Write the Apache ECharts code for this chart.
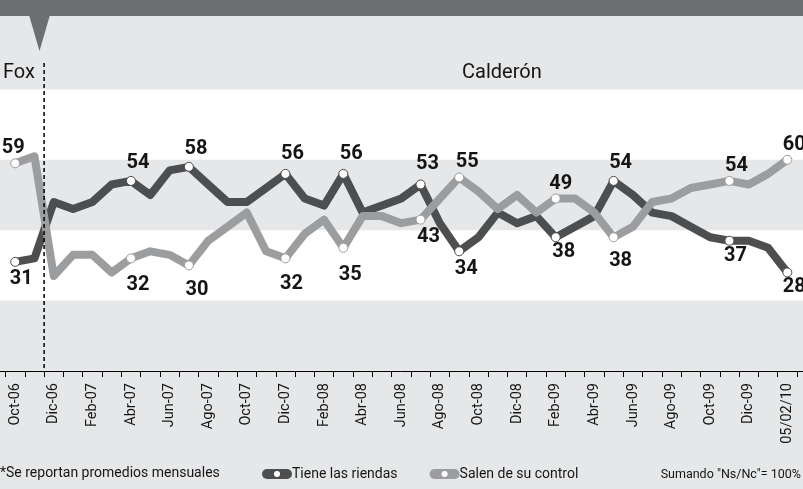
<!DOCTYPE html>
<html>
<head>
<meta charset="utf-8">
<script src="https://cdn.jsdelivr.net/npm/echarts@6/dist/echarts.min.js"></script>
<style>
  html, body { margin: 0; padding: 0; background: #e6e7e8; }
  #chart { width: 803px; height: 489px; }
</style>
</head>
<body>
<div id="chart"></div>
<script>
// meses (promedios mensuales) + último levantamiento
const months = [
  "Oct-06", "Nov-06", "Dic-06", "Ene-07", "Feb-07", "Mar-07", "Abr-07", "May-07",
  "Jun-07", "Jul-07", "Ago-07", "Sep-07", "Oct-07", "Nov-07", "Dic-07", "Ene-08",
  "Feb-08", "Mar-08", "Abr-08", "May-08", "Jun-08", "Jul-08", "Ago-08", "Sep-08",
  "Oct-08", "Nov-08", "Dic-08", "Ene-09", "Feb-09", "Mar-09", "Abr-09", "May-09",
  "Jun-09", "Jul-09", "Ago-09", "Sep-09", "Oct-09", "Nov-09", "Dic-09", "Ene-10",
  "05/02/10"
];
const riendas = [
  31, 32, 48, 46, 48, 53, 54, 50, 57, 58, 53, 48, 48, 52, 56, 49, 47, 56, 45, 47,
  49, 53, 42, 34, 38, 45, 42, 44, 38, 41, 44, 54, 50, 45, 44, 41, 38, 37, 37, 35,
  28
];
const control = [
  59, 61, 27, 33, 33, 28, 32, 34, 33, 30, 37, 41, 45, 34, 32, 39, 43, 35, 44, 44,
  42, 43, 49, 55, 51, 46, 50, 45, 49, 49, 45, 38, 41, 48, 49, 52, 53, 54, 53, 56,
  60
];

const FONT = "Roboto";
const DARK = "#4d4e50";
const LIGHT = "#9c9d9f";
const BG = "#e6e7e8";

// donde van las etiquetas: [posición, distancia, desplazamiento x]
const darkLabels = {
  0: ["bottom", 2.5, 6], 6: ["top", 2.5, 7], 9: ["top", 2.5, 7], 14: ["top", 5, 7],
  17: ["top", 5, 8], 21: ["top", 5, 7], 23: ["bottom", 2.5, 7], 28: ["bottom", 0, 8],
  31: ["top", 2.5, 7], 37: ["bottom", 0.5, 6], 40: ["bottom", 0, 7]
};
const lightLabels = {
  0: ["top", 0, -2], 6: ["bottom", 11.5, 7], 9: ["bottom", 9.5, 8], 14: ["bottom", 10.5, 6],
  17: ["bottom", 12.5, 7], 21: ["bottom", 2.5, 8], 23: ["top", 0, 8], 28: ["top", 0, 5],
  31: ["bottom", 8.5, 7], 37: ["top", 0, 7], 40: ["top", 0, 7]
};

function buildData(values, labels) {
  return values.map(function (v, i) {
    const p = labels[i];
    if (!p) return { value: v, symbol: "none" };
    return {
      value: v,
      label: { show: true, position: p[0], distance: p[1], offset: [p[2], 0] }
    };
  });
}

function lineSeries(name, values, labels, color) {
  return {
    name: name,
    type: "line",
    xAxisIndex: 1,
    yAxisIndex: 1,
    data: buildData(values, labels),
    symbol: "circle",
    symbolSize: 9,
    showAllSymbol: true,
    lineStyle: { color: color, width: 8, cap: "round", join: "round" },
    itemStyle: { color: "#fff", borderColor: color, borderWidth: 1 },
    label: { fontFamily: FONT, fontWeight: "bold", fontSize: 20, color: "#151515" },
    emphasis: { disabled: true }
  };
}

const chart = echarts.init(document.getElementById("chart"));

chart.setOption({
  backgroundColor: BG,
  animation: false,
  grid: [
    { left: 0, right: 0, top: 19, bottom: 118 },
    { left: 5.5, right: 6, top: 19, bottom: 118 }
  ],
  xAxis: [
    {
      gridIndex: 0, type: "value", min: 0, max: 1,
      axisLine: { show: true, lineStyle: { color: "#000", width: 1 } },
      axisTick: { show: false }, axisLabel: { show: false }, splitLine: { show: false }
    },
    {
      gridIndex: 1, type: "category", data: months, boundaryGap: true,
      axisLine: { show: false },
      axisTick: { show: true, interval: 0, length: 6, lineStyle: { color: "#000" } },
      axisLabel: {
        interval: 1, rotate: 90, margin: 12,
        fontFamily: FONT, fontSize: 14.5, color: "#151515"
      }
    }
  ],
  yAxis: [
    {
      gridIndex: 0, type: "value", min: 0, max: 100, interval: 20,
      axisLine: { show: false }, axisTick: { show: false }, axisLabel: { show: false },
      splitLine: { show: false },
      splitArea: { show: true, areaStyle: { color: ["rgba(0,0,0,0)", "#ffffff"] } }
    },
    {
      gridIndex: 1, type: "value", min: 0, max: 100,
      axisLine: { show: false }, axisTick: { show: false }, axisLabel: { show: false },
      splitLine: { show: false }
    }
  ],
  legend: {
    data: ["Tiene las riendas", "Salen de su control"],
    left: 262, top: 467, padding: 0,
    itemWidth: 20, itemHeight: 10, itemGap: 32,
    lineStyle: { width: 10, cap: "round" },
    textStyle: { fontFamily: FONT, fontSize: 14, color: "#151515" }
  },
  series: [
    lineSeries("Tiene las riendas", riendas, darkLabels, DARK),
    lineSeries("Salen de su control", control, lightLabels, LIGHT)
  ]
});

// línea de cambio de gobierno (entre Nov-06 y Dic-06)
const xa = chart.convertToPixel({ xAxisIndex: 1 }, months[1]);
const xb = chart.convertToPixel({ xAxisIndex: 1 }, months[2]);
const xCut = (xa + xb) / 2;
const yTop = chart.convertToPixel({ yAxisIndex: 1 }, 87.5);
const yBot = chart.convertToPixel({ yAxisIndex: 1 }, 0);

chart.setOption({
  graphic: [
    { type: "rect", shape: { x: 0, y: 0, width: 803, height: 16 }, style: { fill: "#6d6e70" }, z: 10 },
    { type: "polygon", shape: { points: [[29, 15], [50, 15], [39.5, 51]] }, style: { fill: "#6d6e70" }, z: 10 },
    {
      type: "line", shape: { x1: xCut, y1: yTop, x2: xCut, y2: yBot },
      style: { stroke: "#000", lineWidth: 1.5, lineDash: [4, 3] }, z: 10
    },
    {
      type: "text", left: 3, top: 63,
      style: { text: "Fox", font: "20px " + FONT, fill: "#151515" }, z: 10
    },
    {
      type: "text", left: 462, top: 63,
      style: { text: "Calderón", font: "20px " + FONT, fill: "#151515" }, z: 10
    },
    {
      type: "text", left: 0, top: 466,
      style: { text: "*Se reportan promedios mensuales", font: "14px " + FONT, fill: "#151515" }, z: 10
    },
    {
      type: "text", right: 2, top: 468,
      style: { text: "Sumando \"Ns/Nc\"= 100%", font: "12.5px " + FONT, fill: "#151515" }, z: 10
    }
  ]
});
</script>
</body>
</html>
